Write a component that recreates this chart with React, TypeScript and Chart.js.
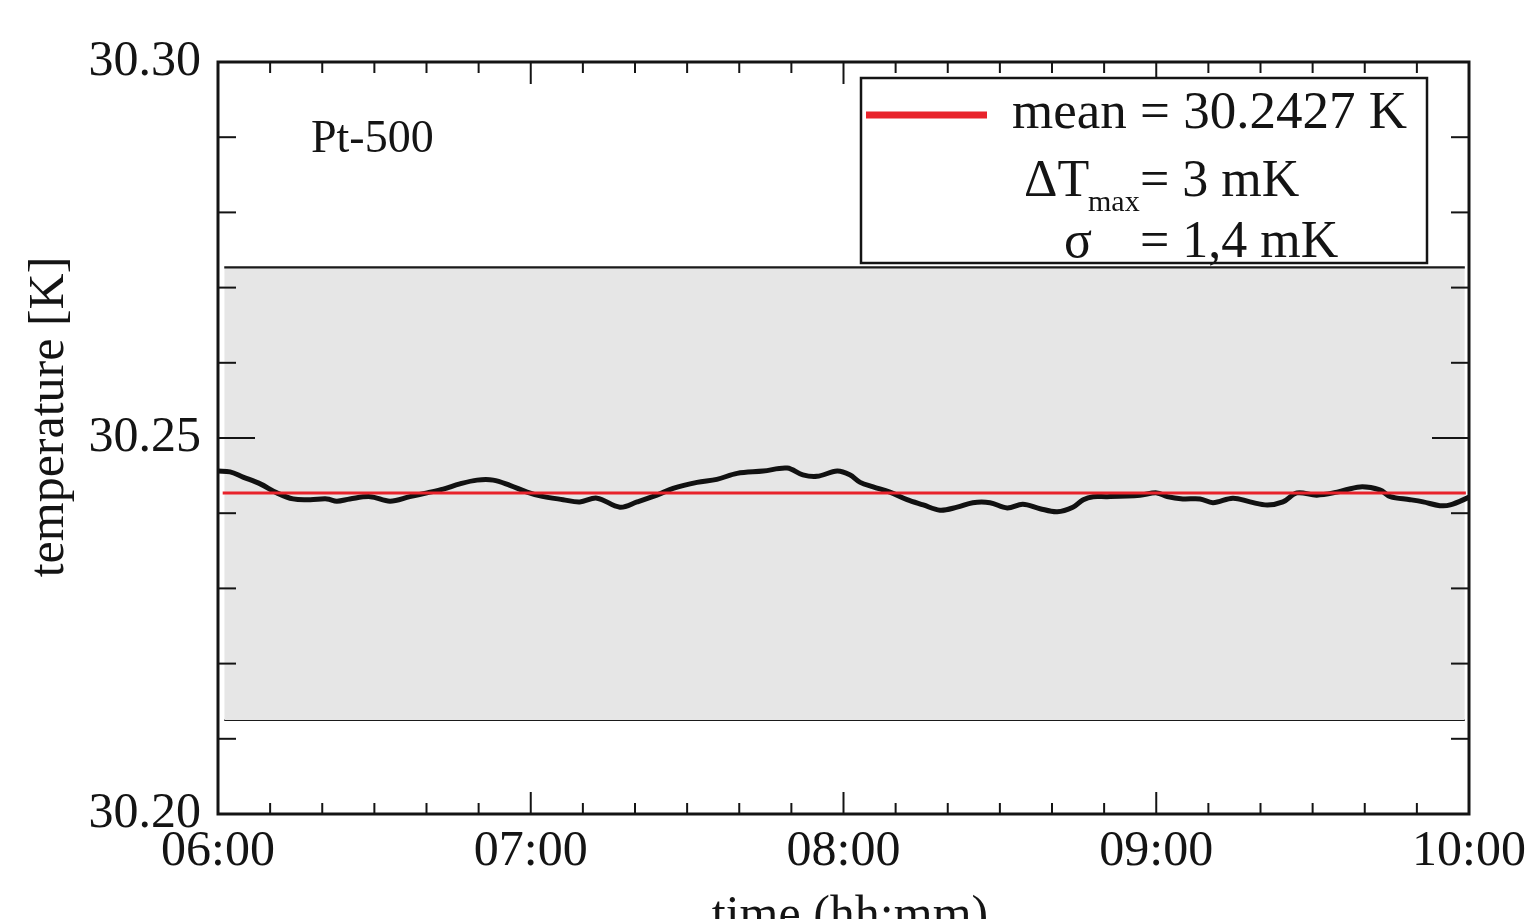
import React, { useEffect, useRef } from 'react';
import { Chart, registerables } from 'chart.js';

Chart.register(...registerables);

// ---- data (minutes after 06:00, temperature in K) ----
const timeMinutes = [
  0, 2.3, 4.8, 8.1, 11.3, 14.4, 17.7, 20.9, 22.8, 25.3, 29.2, 33.0, 36.8, 40.1, 43.2, 46.4,
  49.7, 52.8, 56.0, 59.3, 61.8, 66.2, 69.4, 72.7, 77.1, 80.4, 84.2, 87.3, 91.9, 95.7, 99.6,
  104.6, 109.2, 112.2, 114.9, 118.8, 121.2, 123.2, 125.7, 128.9, 132.2, 135.3, 138.5, 141.8,
  144.8, 148.1, 151.4, 154.4, 157.7, 161.0, 164.0, 166.0, 167.9, 170.6, 176.9, 180.1, 182.1,
  185.1, 188.4, 190.9, 194.7, 198.0, 201.3, 204.3, 207.0, 210.8, 214.7, 219.1, 222.9, 224.9,
  228.7, 231.2, 234.4, 236.4, 239.6, 240,
];
const temperatureK = [
  30.2456, 30.2455, 30.2448, 30.2439, 30.2427, 30.2419, 30.2418, 30.2419, 30.2416, 30.2419,
  30.2422, 30.2416, 30.2422, 30.2427, 30.2432, 30.2439, 30.2444, 30.2444, 30.2437, 30.2428,
  30.2423, 30.2418, 30.2415, 30.2420, 30.2408, 30.2415, 30.2424, 30.2433, 30.2441, 30.2445,
  30.2453, 30.2456, 30.2460, 30.2451, 30.2449, 30.2456, 30.2451, 30.2441, 30.2435, 30.2428,
  30.2418, 30.2411, 30.2404, 30.2408, 30.2414, 30.2414, 30.2407, 30.2412, 30.2406, 30.2402,
  30.2408, 30.2418, 30.2422, 30.2422, 30.2424, 30.2427, 30.2422, 30.2419, 30.2419, 30.2414,
  30.2420, 30.2415, 30.2411, 30.2415, 30.2427, 30.2424, 30.2428, 30.2435, 30.2431, 30.2422,
  30.2418, 30.2415, 30.2410, 30.2411, 30.2420, 30.2422,
];

const meanK = 30.2427;
const meanSpanMin = [0.9, 239.4];
const bandUpperK = 30.2727;
const bandLowerK = 30.2125;
const bandSpanMin = [1.2, 239.2];

const xTickLabels = ['06:00', '07:00', '08:00', '09:00', '10:00'];
const xMajorStep = 60;
const xMinorStep = 10;
const yMin = 30.2;
const yMax = 30.3;
const yMajorStep = 0.05;
const yMinorStep = 0.01;

const legendLines = ['mean = 30.2427 K', 'ΔT', 'max', '= 3 mK', 'σ', '= 1,4 mK'];
const sensorLabel = 'Pt-500';
const xTitle = 'time (hh:mm)';
const yTitle = 'temperature [K]';

const SERIF = '"Liberation Serif", "Times New Roman", serif';
const INK = '#141414';
const RED = '#e8232b';

const frameTicksPlugin = {
  id: 'frameTicks',
  afterDatasetsDraw(chart: any) {
    const { ctx, chartArea: a, scales } = chart;
    const xs = scales.x;
    const ys = scales.y;
    const seg = (x1: number, y1: number, x2: number, y2: number) => {
      ctx.beginPath();
      ctx.moveTo(x1, y1);
      ctx.lineTo(x2, y2);
      ctx.stroke();
    };
    ctx.save();
    ctx.strokeStyle = INK;
    ctx.lineWidth = 2;
    const nx = Math.round((xs.max - xs.min) / xMinorStep);
    for (let i = 0; i <= nx; i++) {
      const m = xs.min + i * xMinorStep;
      const px = xs.getPixelForValue(m);
      const major = Math.abs(m / xMajorStep - Math.round(m / xMajorStep)) < 1e-6;
      const len = major ? 22 : 11;
      seg(px, a.bottom, px, a.bottom - len);
      seg(px, a.top, px, a.top + len);
    }
    const ny = Math.round((yMax - yMin) / yMinorStep);
    const ratio = Math.round(yMajorStep / yMinorStep);
    for (let i = 0; i <= ny; i++) {
      const v = yMin + i * yMinorStep;
      const py = ys.getPixelForValue(v);
      const len = i % ratio === 0 ? 37 : 18;
      seg(a.left, py, a.left + len, py);
      seg(a.right, py, a.right - len, py);
    }
    ctx.lineWidth = 3;
    ctx.strokeRect(a.left, a.top, a.right - a.left, a.bottom - a.top);
    ctx.restore();
  },
};

const annotationPlugin = {
  id: 'annotations',
  afterDraw(chart: any) {
    const { ctx } = chart;
    ctx.save();
    ctx.fillStyle = INK;
    ctx.textBaseline = 'alphabetic';
    ctx.textAlign = 'left';

    // sensor label
    ctx.font = `46px ${SERIF}`;
    ctx.fillText(sensorLabel, 311, 152);

    // legend box
    ctx.fillStyle = '#ffffff';
    ctx.fillRect(861, 78, 566, 185);
    ctx.strokeStyle = INK;
    ctx.lineWidth = 2.5;
    ctx.strokeRect(861, 78, 566, 185);
    ctx.strokeStyle = RED;
    ctx.lineWidth = 7;
    ctx.beginPath();
    ctx.moveTo(866, 115);
    ctx.lineTo(987, 115);
    ctx.stroke();

    ctx.fillStyle = INK;
    ctx.font = `53px ${SERIF}`;
    ctx.fillText(legendLines[0], 1012, 128);
    ctx.font = `52px ${SERIF}`;
    ctx.fillText(legendLines[1], 1024, 196);
    ctx.font = `30px ${SERIF}`;
    ctx.fillText(legendLines[2], 1088, 211);
    ctx.font = `52px ${SERIF}`;
    ctx.fillText(legendLines[3], 1140, 196);
    ctx.fillText(legendLines[4], 1064, 257);
    ctx.fillText(legendLines[5], 1140, 257);

    // axis titles
    ctx.font = `50px ${SERIF}`;
    ctx.textAlign = 'center';
    ctx.fillText(xTitle, 850, 930);
    ctx.translate(63, 417);
    ctx.rotate(-Math.PI / 2);
    ctx.fillText(yTitle, 0, 0);
    ctx.restore();
  },
};

export default function App() {
  const canvasRef = useRef<HTMLCanvasElement | null>(null);

  useEffect(() => {
    const canvas = canvasRef.current;
    if (!canvas) return;
    const series = timeMinutes.map((t, i) => ({ x: t, y: temperatureK[i] }));
    const chart = new Chart(canvas, {
      type: 'line',
      data: {
        datasets: [
          {
            label: 'mean',
            data: meanSpanMin.map((t) => ({ x: t, y: meanK })),
            borderColor: RED,
            borderWidth: 3,
            pointRadius: 0,
            fill: false,
          },
          {
            label: 'Pt-500',
            data: series,
            borderColor: '#111111',
            borderWidth: 5,
            pointRadius: 0,
            tension: 0.35,
            fill: false,
          },
          {
            label: 'band upper',
            data: bandSpanMin.map((t) => ({ x: t, y: bandUpperK })),
            borderColor: '#1a1a1a',
            borderWidth: 2.2,
            pointRadius: 0,
            fill: '+1',
            backgroundColor: '#e6e6e6',
          },
          {
            label: 'band lower',
            data: bandSpanMin.map((t) => ({ x: t, y: bandLowerK })),
            borderColor: '#1a1a1a',
            borderWidth: 2.2,
            pointRadius: 0,
            fill: false,
          },
        ],
      },
      options: {
        animation: false,
        responsive: false,
        maintainAspectRatio: false,
        layout: { padding: { top: 62, right: 58, left: 0, bottom: 0 } },
        plugins: {
          legend: { display: false },
          tooltip: { enabled: false },
          title: { display: false },
        },
        scales: {
          x: {
            type: 'linear',
            min: 0,
            max: 240,
            grid: { display: false, drawTicks: false },
            border: { display: false },
            ticks: {
              stepSize: xMajorStep,
              autoSkip: false,
              maxRotation: 0,
              padding: 8,
              color: INK,
              font: { family: SERIF, size: 50 },
              callback: (v: any) => xTickLabels[Math.round(Number(v) / xMajorStep)] ?? '',
            },
            afterFit: (scale: any) => {
              scale.height = 105;
              scale.paddingLeft = 0;
              scale.paddingRight = 0;
            },
          },
          y: {
            type: 'linear',
            min: yMin,
            max: yMax,
            grid: { display: false, drawTicks: false },
            border: { display: false },
            ticks: {
              stepSize: yMajorStep,
              padding: 17,
              color: INK,
              font: { family: SERIF, size: 50 },
              callback: (v: any) => Number(v).toFixed(2),
            },
            afterFit: (scale: any) => {
              scale.width = 218;
              scale.paddingTop = 0;
              scale.paddingBottom = 0;
            },
          },
        },
      },
      plugins: [frameTicksPlugin, annotationPlugin],
    });
    return () => chart.destroy();
  }, []);

  return (
    <div style={{ position: 'fixed', left: 0, top: 0, width: 1527, height: 919, background: '#ffffff' }}>
      <canvas ref={canvasRef} width={1527} height={919} style={{ width: 1527, height: 919, display: 'block' }} />
    </div>
  );
}
